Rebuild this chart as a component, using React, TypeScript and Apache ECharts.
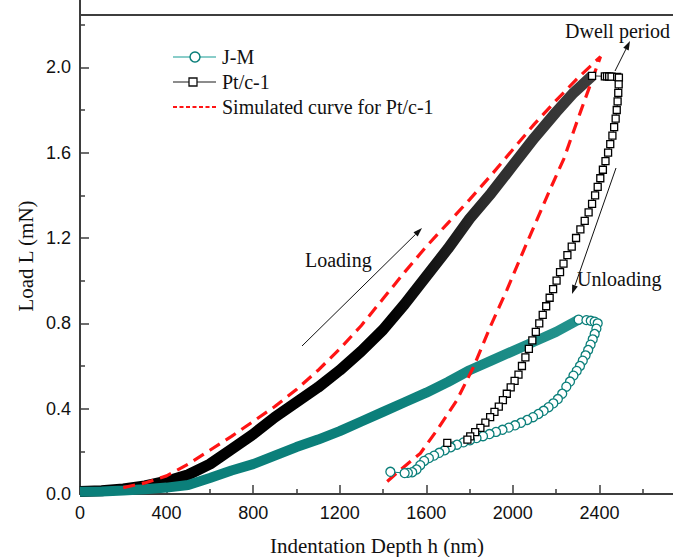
import { useEffect, useRef } from "react";
import * as echarts from "echarts";

// Axis ticks
const depthTicks = [0, 400, 800, 1200, 1600, 2000, 2400];
const loadTicks = [0.0, 0.4, 0.8, 1.2, 1.6, 2.0];

// J-M: loading branch (nm, mN)
const jmLoadDepth = [0, 100, 200, 300, 400, 500, 600, 700, 800, 900, 1000, 1100, 1200, 1300, 1400, 1500, 1600, 1700, 1800, 1900, 2000, 2100, 2200, 2304];
const jmLoadLoad = [0.010, 0.012, 0.016, 0.022, 0.030, 0.042, 0.075, 0.110, 0.140, 0.180, 0.220, 0.255, 0.295, 0.340, 0.385, 0.430, 0.475, 0.525, 0.580, 0.625, 0.670, 0.715, 0.760, 0.817];

// J-M: dwell and unloading branch
const jmUnloadDepth = [2304, 2340, 2360, 2378, 2392, 2386, 2378, 2369, 2359, 2348, 2336, 2323, 2310, 2295, 2280, 2264, 2247, 2228, 2208, 2187, 2165, 2142, 2118, 2093, 2066, 2038, 2010, 1981, 1952, 1922, 1892, 1862, 1832, 1802, 1772, 1742, 1713, 1685, 1660, 1636, 1612, 1590, 1572, 1555, 1535, 1515, 1500, 1434];
const jmUnloadLoad = [0.817, 0.815, 0.812, 0.808, 0.800, 0.775, 0.750, 0.725, 0.700, 0.675, 0.650, 0.625, 0.600, 0.577, 0.555, 0.527, 0.503, 0.470, 0.445, 0.425, 0.407, 0.390, 0.375, 0.360, 0.347, 0.334, 0.322, 0.311, 0.301, 0.291, 0.281, 0.271, 0.262, 0.252, 0.242, 0.231, 0.219, 0.205, 0.193, 0.180, 0.168, 0.155, 0.135, 0.115, 0.102, 0.099, 0.098, 0.104];

// Pt/c-1: loading branch
const ptLoadDepth = [0, 100, 200, 300, 400, 500, 600, 700, 800, 900, 1000, 1100, 1200, 1300, 1400, 1500, 1600, 1700, 1800, 1900, 2000, 2100, 2200, 2280, 2366];
const ptLoadLoad = [0.012, 0.015, 0.024, 0.038, 0.060, 0.090, 0.140, 0.210, 0.280, 0.360, 0.430, 0.500, 0.580, 0.670, 0.770, 0.890, 1.020, 1.150, 1.290, 1.410, 1.540, 1.670, 1.790, 1.880, 1.960];

// Pt/c-1: dwell and unloading branch
const ptUnloadDepth = [2366, 2425, 2435, 2445, 2456, 2482, 2490, 2489, 2487, 2484, 2480, 2475, 2468, 2460, 2450, 2440, 2428, 2416, 2404, 2392, 2380, 2366, 2350, 2332, 2312, 2292, 2272, 2252, 2234, 2218, 2202, 2186, 2170, 2154, 2138, 2122, 2106, 2090, 2074, 2058, 2042, 2026, 2008, 1990, 1972, 1954, 1935, 1915, 1895, 1873, 1850, 1826, 1803, 1790, 1697];
const ptUnloadLoad = [1.960, 1.958, 1.958, 1.957, 1.956, 1.955, 1.952, 1.920, 1.880, 1.840, 1.800, 1.760, 1.720, 1.680, 1.640, 1.600, 1.560, 1.520, 1.480, 1.440, 1.400, 1.360, 1.320, 1.280, 1.240, 1.200, 1.160, 1.120, 1.080, 1.040, 1.000, 0.960, 0.920, 0.880, 0.840, 0.800, 0.760, 0.720, 0.680, 0.640, 0.600, 0.560, 0.530, 0.500, 0.470, 0.440, 0.410, 0.385, 0.360, 0.335, 0.310, 0.290, 0.270, 0.255, 0.240];

// Simulated curve for Pt/c-1 (loading then unloading)
const simDepth = [200, 300, 400, 500, 600, 700, 800, 900, 1000, 1100, 1200, 1300, 1400, 1500, 1600, 1700, 1800, 1900, 2000, 2100, 2200, 2300, 2405, 2312, 2235, 2173, 2096, 2066, 1973, 1896, 1819, 1742, 1650, 1572, 1480, 1410];
const simLoad = [0.030, 0.052, 0.085, 0.140, 0.205, 0.270, 0.340, 0.410, 0.490, 0.580, 0.680, 0.790, 0.915, 1.040, 1.160, 1.270, 1.380, 1.495, 1.615, 1.735, 1.845, 1.950, 2.050, 1.790, 1.570, 1.430, 1.250, 1.180, 0.958, 0.785, 0.597, 0.441, 0.300, 0.190, 0.113, 0.050];

const zip = (xs: number[], ys: number[]) => xs.map((x, i) => [x, ys[i]]);

const TEAL = "#0b7f7a";
const TEAL_LIGHT = "#62bdb7";
const RED = "#ff1414";
const AXIS = "#3d3d3d";
const SERIF = "'Liberation Serif', 'Times New Roman', serif";
const SANS = "'Liberation Sans', Arial, sans-serif";

// The chart canvas is larger than the visible frame: the axes run on
// past the right and top edges, which the frame crops.
const FRAME_W = 673;
const FRAME_H = 557;
const OFF_Y = 40; // canvas starts this far above the frame
const CHART_W = 700;
const CHART_H = FRAME_H + OFF_Y;

function arrow(x1: number, y1: number, x2: number, y2: number) {
  const ang = Math.atan2(y2 - y1, x2 - x1);
  const len = 9;
  const half = 3;
  const bx = x2 - len * Math.cos(ang);
  const by = y2 - len * Math.sin(ang);
  const px = -Math.sin(ang) * half;
  const py = Math.cos(ang) * half;
  return {
    type: "group",
    y: OFF_Y,
    children: [
      { type: "line", shape: { x1, y1, x2: bx, y2: by }, style: { stroke: "#111", lineWidth: 1 } },
      {
        type: "polygon",
        shape: { points: [[x2, y2], [bx + px, by + py], [bx - px, by - py]] },
        style: { fill: "#111" },
      },
    ],
  };
}

export default function App() {
  const ref = useRef<HTMLDivElement>(null);

  useEffect(() => {
    if (!ref.current) return;
    const chart = echarts.init(ref.current, undefined, { renderer: "svg" });

    const labelStyle = { fontFamily: SANS, fontSize: 18, color: "#111" };
    const textStyle = (size: number) => ({ font: `${size}px ${SERIF}`, fill: "#111" });
    const txt = (x: number, y: number, text: string, size = 20, extra: any = {}) => ({
      type: "text",
      x,
      y: y + OFF_Y,
      ...extra,
      style: { ...textStyle(size), text, verticalAlign: "middle", ...(extra.style || {}) },
    });

    // plot frame in page pixels: x 0 -> 80, 2800 -> 686; y 0 -> 494, 2.4 -> -18
    const option: any = {
      animation: false,
      backgroundColor: "#fff",
      grid: { left: 80, right: CHART_W - 686, top: OFF_Y - 18, bottom: FRAME_H - 494, containLabel: false },
      xAxis: {
        type: "value",
        min: 0,
        max: 2800,
        interval: 400,
        axisLine: { show: true, onZero: false, lineStyle: { color: AXIS, width: 2 } },
        axisTick: { show: true, inside: true, length: 9, lineStyle: { color: AXIS, width: 1.5 } },
        minorTick: { show: true, splitNumber: 2, length: 5, lineStyle: { color: AXIS, width: 1.5 } },
        splitLine: { show: false },
        axisLabel: {
          ...labelStyle,
          margin: 10,
          formatter: (v: number) => (depthTicks.includes(v) ? String(v) : ""),
        },
      },
      yAxis: {
        type: "value",
        min: 0,
        max: 2.4,
        interval: 0.4,
        axisLine: { show: true, onZero: false, lineStyle: { color: AXIS, width: 2 } },
        axisTick: { show: true, inside: true, length: 9, lineStyle: { color: AXIS, width: 1.5 } },
        minorTick: { show: true, splitNumber: 2, length: 5, lineStyle: { color: AXIS, width: 1.5 } },
        splitLine: { show: false },
        axisLabel: {
          ...labelStyle,
          margin: 9,
          formatter: (v: number) => {
            const hit = loadTicks.find((t) => Math.abs(t - v) < 1e-6);
            return hit === undefined ? "" : hit.toFixed(1);
          },
        },
      },
      series: [
        {
          name: "Pt/c-1 loading",
          type: "line",
          silent: true,
          symbol: "none",
          data: zip(ptLoadDepth, ptLoadLoad),
          lineStyle: {
            width: 11,
            color: new echarts.graphic.LinearGradient(0, 0, 1, 0, [
              { offset: 0, color: "#000" },
              { offset: 0.6, color: "#000" },
              { offset: 0.8, color: "#2e2e2e" },
              { offset: 1, color: "#3c3c3c" },
            ]),
          },
        },
        {
          name: "J-M loading",
          type: "line",
          silent: true,
          symbol: "none",
          data: zip(jmLoadDepth, jmLoadLoad),
          lineStyle: {
            width: 10,
            color: new echarts.graphic.LinearGradient(0, 0, 1, 0, [
              { offset: 0, color: TEAL },
              { offset: 0.6, color: TEAL },
              { offset: 1, color: "#24938d" },
            ]),
          },
        },
        {
          name: "J-M",
          type: "line",
          silent: true,
          symbol: "circle",
          symbolSize: 9,
          data: zip(jmUnloadDepth, jmUnloadLoad),
          itemStyle: { color: "#fff", borderColor: TEAL, borderWidth: 1.3 },
          lineStyle: { color: TEAL, width: 1 },
        },
        {
          name: "Pt/c-1",
          type: "line",
          silent: true,
          symbol: "rect",
          symbolSize: 7,
          data: zip(ptUnloadDepth, ptUnloadLoad),
          itemStyle: { color: "#fff", borderColor: "#000", borderWidth: 1.3 },
          lineStyle: { color: "#333", width: 1 },
        },
        {
          name: "Simulated curve for Pt/c-1",
          type: "line",
          silent: true,
          symbol: "none",
          data: zip(simDepth, simLoad),
          lineStyle: { color: RED, width: 3.2, type: [12, 7], cap: "butt" },
        },
      ],
      graphic: [
        // top frame line
        { type: "line", shape: { x1: 79, y1: 15 + OFF_Y, x2: 700, y2: 15 + OFF_Y }, style: { stroke: AXIS, lineWidth: 2 } },
        // legend
        { type: "line", shape: { x1: 173, y1: 57 + OFF_Y, x2: 216, y2: 57 + OFF_Y }, style: { stroke: TEAL_LIGHT, lineWidth: 1.5 } },
        { type: "circle", shape: { cx: 195, cy: 57 + OFF_Y, r: 5 }, style: { fill: "#fff", stroke: TEAL, lineWidth: 1.5 } },
        txt(222, 57, "J-M"),
        { type: "line", shape: { x1: 173, y1: 82 + OFF_Y, x2: 216, y2: 82 + OFF_Y }, style: { stroke: "#666", lineWidth: 1.5 } },
        { type: "rect", shape: { x: 189, y: 78 + OFF_Y, width: 8, height: 8 }, style: { fill: "#fff", stroke: "#111", lineWidth: 1.3 } },
        txt(222, 82, "Pt/c-1"),
        { type: "line", shape: { x1: 173, y1: 107 + OFF_Y, x2: 217, y2: 107 + OFF_Y }, style: { stroke: RED, lineWidth: 2, lineDash: [4, 2.5] } },
        txt(222, 107, "Simulated curve for Pt/c-1"),
        // annotations
        txt(565, 31, "Dwell period"),
        arrow(615, 71, 630, 41),
        txt(305, 260, "Loading"),
        arrow(302, 346, 422, 228),
        txt(577, 279, "Unloading"),
        arrow(616, 168, 572, 294),
        // axis titles
        txt(377, 546, "Indentation Depth h (nm)", 21, { style: { align: "center" } }),
        txt(26, 256, "Load L (mN)", 21, { rotation: Math.PI / 2, style: { align: "center" } }),
      ],
    };

    chart.setOption(option);
    return () => chart.dispose();
  }, []);

  return (
    <div
      style={{
        position: "absolute",
        left: 0,
        top: 0,
        width: FRAME_W,
        height: FRAME_H,
        overflow: "hidden",
        background: "#fff",
      }}
    >
      <div
        ref={ref}
        style={{ position: "absolute", left: 0, top: -OFF_Y, width: CHART_W, height: CHART_H }}
      />
    </div>
  );
}
